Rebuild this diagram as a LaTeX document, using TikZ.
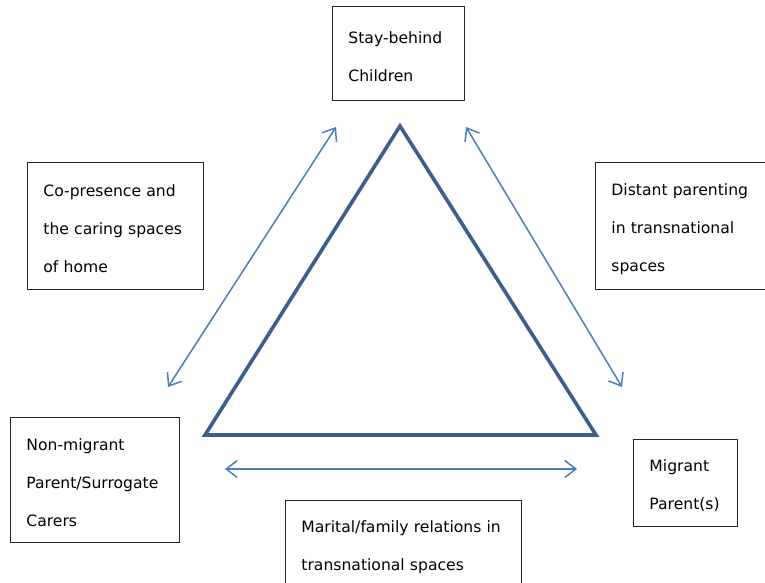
\documentclass[tikz,border=0pt]{standalone}
\usepackage{fontspec}
\setmainfont{DejaVu Sans}
\usetikzlibrary{arrows.meta}
\definecolor{triblue}{HTML}{3A5F8D}
\definecolor{arrblue}{HTML}{4A7EBB}
\newcommand{\topgap}{\rule{0pt}{18pt}}
\begin{document}
\begin{tikzpicture}[x=1pt,y=-1pt,
    main node/.style={draw=black!85,line width=0.9pt,rectangle,anchor=north west,inner xsep=16pt,
        align=left,font=\fontsize{15.6}{38}\selectfont},
    link/.style={arrblue,line width=1.5pt,{Straight Barb[length=11pt,width=17pt]}-{Straight Barb[length=11pt,width=17pt]}}]
    \useasboundingbox (0,0) rectangle (765,583);

    % the three corners of the triangle
    \coordinate (apex) at (400,126);
    \coordinate (left) at (205,435);
    \coordinate (right) at (596,435);
    \draw[triblue,line width=3.6pt,line join=miter] (apex) -- (left) -- (right) -- cycle;

    % boxes
    \node[main node,minimum width=132,minimum height=94,text width=100] at (332,6) (stay) {\topgap Stay-behind\\Children};
    \node[main node,minimum width=176,minimum height=127,text width=144] at (27,162) (copres) {\topgap Co-presence and\\the caring spaces\\of home};
    \node[main node,minimum width=176,minimum height=127,text width=144] at (595,162) (distant) {\topgap Distant parenting\\in transnational\\spaces};
    \node[main node,minimum width=169,minimum height=125,text width=137] at (10,417) (nonmig) {\topgap Non-migrant\\Parent/Surrogate\\Carers};
    \node[main node,minimum width=104,minimum height=87,text width=72] at (633,439) (mig) {\topgap Migrant\\Parent(s)};
    \node[main node,minimum width=236,minimum height=88,text width=204] at (285,500) (marital) {\topgap Marital/family relations in\\transnational spaces};

    % arrow ends
    \coordinate (a1) at (168,387);
    \coordinate (a2) at (336,127);
    \coordinate (b1) at (466,127);
    \coordinate (b2) at (622,387);
    \coordinate (c1) at (225,469);
    \coordinate (c2) at (577,469);
    \draw[link] (a1) -- (a2);
    \draw[link] (b1) -- (b2);
    \draw[link] (c1) -- (c2);
\end{tikzpicture}
\end{document}
